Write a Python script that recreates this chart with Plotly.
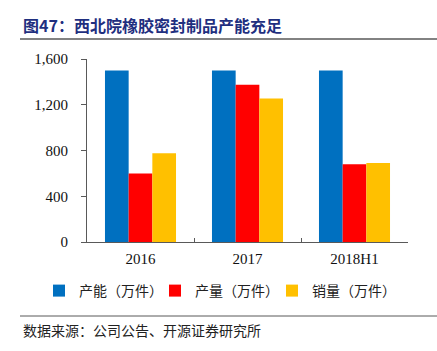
import plotly.graph_objects as go

categories = ["2016", "2017", "2018H1"]
capacity = [1500, 1500, 1500]
production = [600, 1375, 679]
sales = [775, 1255, 690]
series_names = ["产能（万件）", "产量（万件）", "销量（万件）"]
colors = ["#0070C0", "#FF0000", "#FFC000"]
y_ticks = [0, 400, 800, 1200, 1600]
y_tick_labels = ["0", "400", "800", "1,200", "1,600"]

CJK = "Noto Sans CJK SC"
SERIF = "Liberation Serif, Times New Roman, serif"

# plot area in pixels
PL, PR, PT, PB = 87, 408, 59, 242
PW, PH = PR - PL, PB - PT


def px_x(x):
    return (x - PL) / PW


def px_y(y):
    return (PB - y) / PH


fig = go.Figure()
legend_ids = ["legend", "legend2", "legend3"]
for name, vals, col, lg in zip(series_names, [capacity, production, sales], colors, legend_ids):
    fig.add_trace(go.Bar(x=categories, y=vals, name=name, legend=lg,
                         marker=dict(color=col, line=dict(width=0))))

legend_common = dict(orientation="h", yanchor="middle", xanchor="left",
                     font=dict(family=CJK, size=14, color="#222"),
                     itemwidth=30, itemclick=False, bgcolor="rgba(0,0,0,0)",
                     borderwidth=0)
legend_lefts = [39, 155, 272]

fig.update_layout(
    width=437, height=351,
    margin=dict(l=PL, r=437 - PR, t=PT, b=351 - PB),
    paper_bgcolor="white", plot_bgcolor="white",
    barmode="group", bargap=0.336, bargroupgap=0,
    showlegend=True,
    legend=dict(legend_common, x=px_x(legend_lefts[0]), y=px_y(291)),
    legend2=dict(legend_common, x=px_x(legend_lefts[1]), y=px_y(291)),
    legend3=dict(legend_common, x=px_x(legend_lefts[2]), y=px_y(291)),
    xaxis=dict(type="category", showline=True, linecolor="#595959", linewidth=1,
               ticks="inside", tickson="boundaries", ticklen=4, tickcolor="#595959",
               ticklabelstandoff=3,
               tickfont=dict(family=SERIF, size=15, color="#111"), showgrid=False),
    yaxis=dict(range=[0, 1600], tickvals=y_ticks, ticktext=y_tick_labels,
               showline=True, linecolor="#595959", linewidth=1,
               ticks="outside", ticklen=5, tickcolor="#595959", ticklabelstandoff=10,
               tickfont=dict(family=SERIF, size=15, color="#111"), showgrid=False, zeroline=False),
    shapes=[
        dict(type="line", xref="paper", yref="paper", x0=px_x(20), x1=px_x(437),
             y0=px_y(39), y1=px_y(39), line=dict(color="#595959", width=1.5)),
        dict(type="line", xref="paper", yref="paper", x0=px_x(20), x1=px_x(437),
             y0=px_y(316), y1=px_y(316), line=dict(color="#595959", width=1)),
    ],
    annotations=[
        dict(text="<b>图47：西北院橡胶密封制品产能充足</b>", xref="paper", yref="paper",
             x=px_x(21), y=px_y(25), xanchor="left", yanchor="middle", showarrow=False,
             font=dict(family=CJK, size=16, color="#1F2F7F")),
        dict(text="数据来源：公司公告、开源证券研究所", xref="paper", yref="paper",
             x=px_x(21), y=px_y(330), xanchor="left", yanchor="middle", showarrow=False,
             font=dict(family=CJK, size=14, color="#222")),
    ],
)

fig.write_html("out.html")
